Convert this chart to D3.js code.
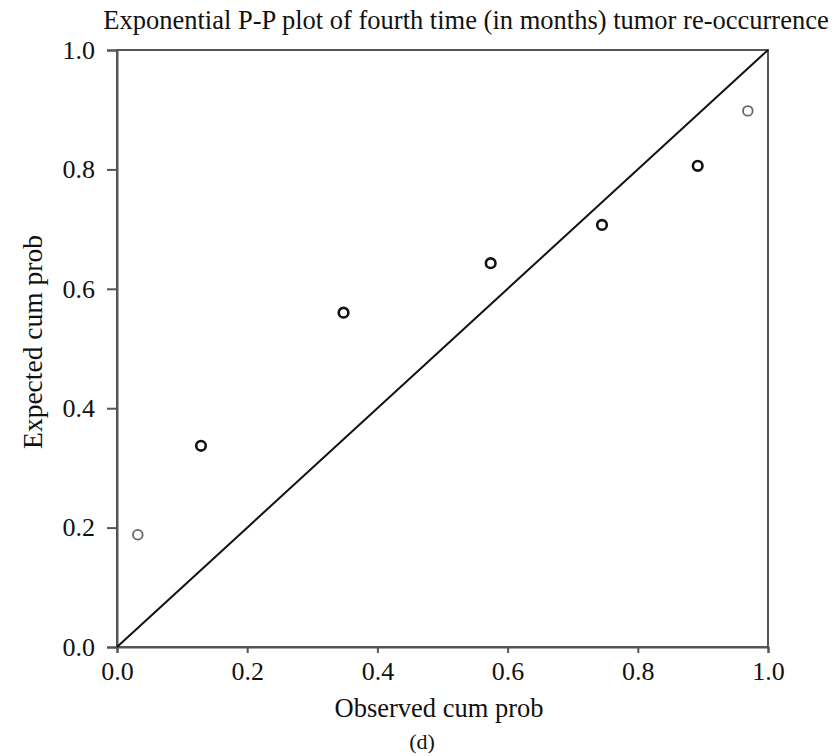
<!DOCTYPE html>
<html>
<head>
<meta charset="utf-8">
<script src="https://cdn.jsdelivr.net/npm/d3@7"></script>
<style>
  body { margin: 0; background: #fff; }
  text { font-family: "Liberation Serif", "Times New Roman", serif; fill: #111; }
</style>
</head>
<body>
<div id="chartContainer"></div>
<script>
// data
const observed = [0.032, 0.129, 0.348, 0.574, 0.745, 0.892, 0.969];
const expected = [0.188, 0.337, 0.560, 0.643, 0.707, 0.806, 0.898];
const ties = [1, 2, 2, 2, 2, 2, 1]; // overlapping points look darker
const ticks = [0, 0.2, 0.4, 0.6, 0.8, 1.0];

const margin = { top: 50, right: 66, bottom: 109, left: 117 },
  width = 834 - margin.left - margin.right,
  height = 756 - margin.top - margin.bottom;

const root = d3
  .select("#chartContainer")
  .append("svg")
  .attr("width", 834)
  .attr("height", 756);

const svg = root.append("g").attr("transform", "translate(" + margin.left + "," + margin.top + ")");

const x = d3.scaleLinear().domain([0, 1]).range([0, width]);
const y = d3.scaleLinear().domain([0, 1]).range([height, 0]);

// frame
svg
  .append("rect")
  .attr("width", width)
  .attr("height", height)
  .attr("fill", "none")
  .attr("stroke", "#555")
  .attr("stroke-width", 2);

// axes
const xAxis = svg
  .append("g")
  .attr("transform", "translate(0," + height + ")")
  .call(d3.axisBottom(x).tickValues(ticks).tickFormat(d3.format(".1f")).tickSize(6).tickPadding(9));
const yAxis = svg
  .append("g")
  .call(d3.axisLeft(y).tickValues(ticks).tickFormat(d3.format(".1f")).tickSize(10).tickPadding(12));

[xAxis, yAxis].forEach((g) => {
  g.select(".domain").attr("stroke", "#555").attr("stroke-width", 2);
  g.selectAll(".tick line").attr("stroke", "#555").attr("stroke-width", 2);
  g.selectAll(".tick text").style("font-size", "26px").attr("fill", "#111");
});

// reference diagonal
svg
  .append("line")
  .attr("x1", x(0))
  .attr("y1", y(0))
  .attr("x2", x(1))
  .attr("y2", y(1))
  .attr("stroke", "#111")
  .attr("stroke-width", 2);

// points
svg
  .selectAll(".pt")
  .data(observed.map((d, i) => ({ o: d, e: expected[i], n: ties[i] })))
  .enter()
  .append("circle")
  .attr("class", "pt")
  .attr("cx", (d) => x(d.o))
  .attr("cy", (d) => y(d.e))
  .attr("r", 4.8)
  .attr("fill", "none")
  .attr("stroke", (d) => (d.n > 1 ? "#111" : "#666"))
  .attr("stroke-width", (d) => (d.n > 1 ? 2.6 : 1.8));

// titles
root
  .append("text")
  .attr("x", 466)
  .attr("y", 29)
  .attr("text-anchor", "middle")
  .style("font-size", "26.5px")
  .text("Exponential P-P plot of fourth time (in months) tumor re-occurrence");

root
  .append("text")
  .attr("x", 439)
  .attr("y", 717)
  .attr("text-anchor", "middle")
  .style("font-size", "26.5px")
  .text("Observed cum prob");

root
  .append("text")
  .attr("transform", "translate(42,342) rotate(-90)")
  .attr("text-anchor", "middle")
  .style("font-size", "27.5px")
  .text("Expected cum prob");

root
  .append("text")
  .attr("x", 422)
  .attr("y", 749)
  .attr("text-anchor", "middle")
  .style("font-size", "22px")
  .text("(d)");
</script>
</body>
</html>
